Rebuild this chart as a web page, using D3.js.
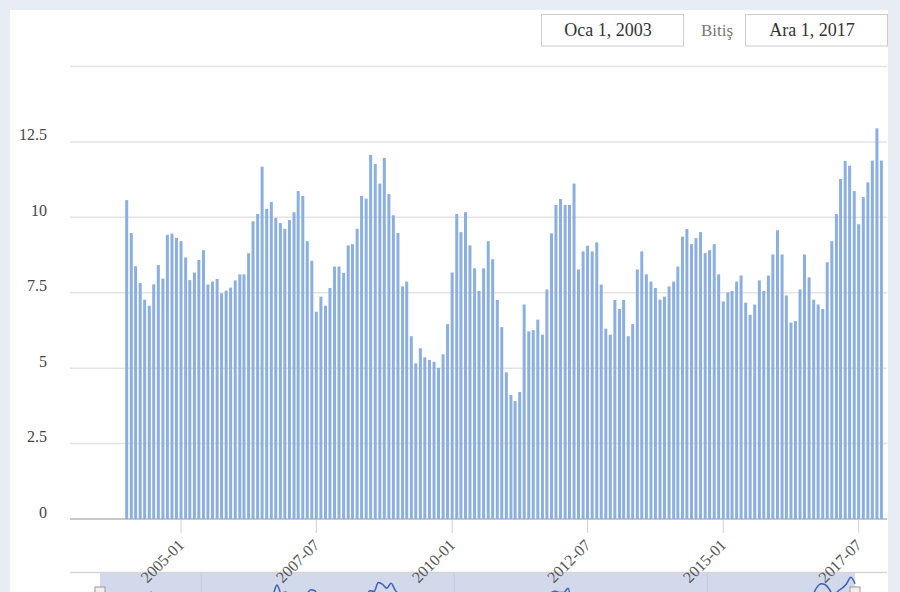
<!DOCTYPE html>
<html>
<head>
<meta charset="utf-8">
<script src="https://cdn.jsdelivr.net/npm/d3@7"></script>
<style>
  html, body { margin: 0; padding: 0; background: #e8ecf5; }
  svg { display: block; }
</style>
</head>
<body>
<svg id="chart" width="900" height="592"></svg>
<script>
// ---- data ----
const startMonth = "2004-01";
const values = [
  10.57, 9.48, 8.38, 7.82, 7.27, 7.07, 7.78, 8.42, 7.97, 9.42, 9.46, 9.32,
  9.21, 8.67, 7.92, 8.17, 8.59, 8.91, 7.77, 7.87, 7.96, 7.48, 7.57, 7.67,
  7.91, 8.11, 8.11, 8.81, 9.87, 10.11, 11.68, 10.28, 10.51, 9.98, 9.81, 9.62,
  9.91, 10.17, 10.87, 10.71, 9.21, 8.56, 6.87, 7.37, 7.07, 7.66, 8.37, 8.37,
  8.16, 9.07, 9.11, 9.62, 10.71, 10.62, 12.07, 11.77, 11.12, 11.97, 10.77, 10.07,
  9.48, 7.71, 7.87, 6.06, 5.16, 5.66, 5.36, 5.27, 5.21, 5.01, 5.46, 6.46,
  8.17, 10.11, 9.51, 10.17, 9.07, 8.31, 7.56, 8.31, 9.21, 8.61, 7.26, 6.36,
  4.86, 4.11, 3.91, 4.21, 7.11, 6.22, 6.26, 6.61, 6.11, 7.61, 9.47, 10.41,
  10.61, 10.41, 10.41, 11.12, 8.27, 8.87, 9.06, 8.87, 9.17, 7.77, 6.31, 6.11,
  7.26, 6.96, 7.26, 6.06, 6.46, 8.27, 8.87, 8.11, 7.87, 7.66, 7.27, 7.37,
  7.71, 7.87, 8.37, 9.36, 9.61, 9.11, 9.31, 9.51, 8.81, 8.91, 9.11, 8.11,
  7.21, 7.51, 7.56, 7.87, 8.07, 7.17, 6.77, 7.11, 7.91, 7.56, 8.07, 8.77,
  9.57, 8.77, 7.41, 6.51, 6.56, 7.61, 8.77, 8.01, 7.27, 7.11, 6.96, 8.51,
  9.21, 10.11, 11.27, 11.87, 11.71, 10.87, 9.77, 10.67, 11.16, 11.88, 12.95, 11.88
];
const xTickLabels = ["2005-01", "2007-07", "2010-01", "2012-07", "2015-01", "2017-07"];
const yTickValues = [0, 2.5, 5, 7.5, 10, 12.5, 15];
const yTickLabels = ["0", "2.5", "5", "7.5", "10", "12.5", ""];
const rangeFrom = "Oca 1, 2003";
const rangeSep = "Bitiş";
const rangeTo = "Ara 1, 2017";

// ---- build ----
const parseMonth = d3.timeParse("%Y-%m");
const first = parseMonth(startMonth);
const dates = values.map((v, i) => d3.timeMonth.offset(first, i));
const data = dates.map((d, i) => ({ date: d, value: values[i] }));

const svg = d3.select("#chart");
const serif = "Liberation Serif, DejaVu Serif, serif";

// card
svg.append("rect").attr("x", 10).attr("y", 10).attr("width", 878).attr("height", 600)
  .attr("fill", "#ffffff");

const x = d3.scaleTime()
  .domain([new Date(2003, 0, 1), new Date(2018, 0, 1)])
  .range([72.5, 886]);
const y = d3.scaleLinear().domain([0, 15]).range([519, 66.5]);

// gridlines
svg.append("g").selectAll("line").data(yTickValues.filter(v => v > 0)).join("line")
  .attr("x1", 70).attr("x2", 887)
  .attr("y1", d => y(d)).attr("y2", d => y(d))
  .attr("stroke", "#e3e3e3").attr("stroke-width", 1.5);

// y labels
svg.append("g").selectAll("text").data(yTickValues).join("text")
  .attr("x", 47).attr("y", d => y(d) - 1.5)
  .attr("text-anchor", "end")
  .style("font-family", serif).attr("font-size", 16).attr("fill", "#444")
  .text((d, i) => yTickLabels[i]);

// baseline
svg.append("line").attr("x1", 70).attr("x2", 887).attr("y1", 519).attr("y2", 519)
  .attr("stroke", "#c8c8c8").attr("stroke-width", 2);

// bars
svg.append("g").selectAll("rect").data(data).join("rect")
  .attr("x", d => x(d.date) - 1.5)
  .attr("width", 3)
  .attr("y", d => y(d.value))
  .attr("height", d => y(0) - y(d.value))
  .attr("fill", "#8aafe0");

// navigator
const navX = d3.scaleTime()
  .domain([new Date(2003, 0, 1), new Date(2017, 11, 1)])
  .range([100, 855]);
const navY = d3.scaleLinear().domain([0, 13]).range([655, 577]);
svg.append("rect").attr("x", navX.range()[0]).attr("y", 573)
  .attr("width", navX.range()[1] - navX.range()[0]).attr("height", 30)
  .attr("fill", "#d2d9eb");
svg.append("g").selectAll("line").data(navX.ticks(d3.timeYear.every(5))).join("line")
  .attr("x1", d => navX(d)).attr("x2", d => navX(d))
  .attr("y1", 573).attr("y2", 600)
  .attr("stroke", "#c3cadd").attr("stroke-width", 1);
svg.append("path").datum(data)
  .attr("d", d3.line().x(d => navX(d.date)).y(d => navY(d.value)).curve(d3.curveMonotoneX))
  .attr("fill", "none").attr("stroke", "#3d5fb5").attr("stroke-width", 1.5);
svg.append("line").attr("x1", 70).attr("x2", 887).attr("y1", 572.5).attr("y2", 572.5)
  .attr("stroke", "#d6d6d6").attr("stroke-width", 1.5);
svg.append("g").selectAll("rect").data(navX.range()).join("rect")
  .attr("x", d => d - 5).attr("y", 587).attr("width", 10).attr("height", 10)
  .attr("fill", "#f0f0f0").attr("stroke", "#999").attr("stroke-width", 1);

// x ticks (drawn over the navigator)
const tickDates = xTickLabels.map(parseMonth);
const xt = svg.append("g");
xt.selectAll("line").data(tickDates).join("line")
  .attr("x1", d => x(d)).attr("x2", d => x(d))
  .attr("y1", 520).attr("y2", 533)
  .attr("stroke", "#d0d0d0").attr("stroke-width", 1);
xt.selectAll("text").data(tickDates).join("text")
  .attr("transform", d => `translate(${x(d) + 4},${546}) rotate(-45)`)
  .attr("text-anchor", "end")
  .style("font-family", serif).attr("font-size", 16).attr("fill", "#555")
  .text((d, i) => xTickLabels[i]);

// range selector boxes
const boxes = [
  { x: 541, w: 142, label: rangeFrom },
  { x: 745, w: 142, label: rangeTo }
];
const bg = svg.append("g");
bg.selectAll("rect").data(boxes).join("rect")
  .attr("x", d => d.x + 0.5).attr("y", 14.5).attr("width", d => d.w).attr("height", 31.5)
  .attr("fill", "#fff").attr("stroke", "#cccccc").attr("stroke-width", 1);
bg.selectAll("text").data(boxes).join("text")
  .attr("x", d => d.x + d.w / 2 - 4).attr("y", 36)
  .attr("text-anchor", "middle")
  .style("font-family", serif).attr("font-size", 18).attr("fill", "#333")
  .text(d => d.label);
svg.append("text").attr("x", 717).attr("y", 36).attr("text-anchor", "middle")
  .style("font-family", serif).attr("font-size", 17).attr("fill", "#777")
  .text(rangeSep);
</script>
</body>
</html>
